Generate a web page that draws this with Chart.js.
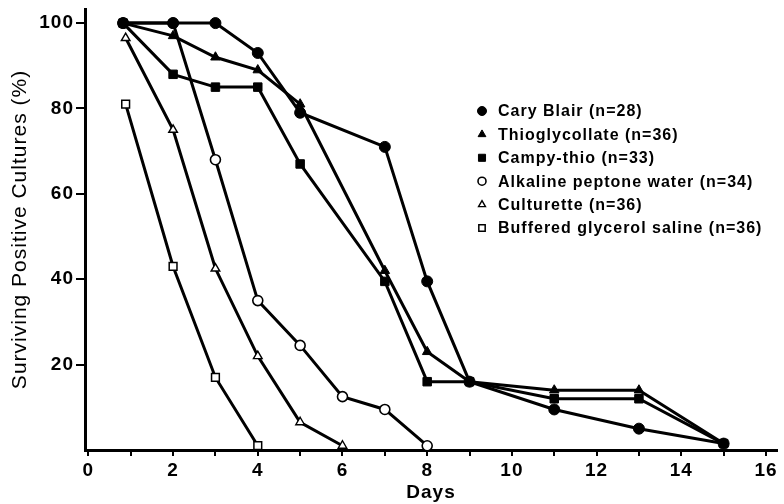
<!DOCTYPE html>
<html>
<head>
<meta charset="utf-8">
<script src="https://cdn.jsdelivr.net/npm/chart.js@4"></script>
<style>
  html, body { margin: 0; padding: 0; background: #fff; }
  #wrap { width: 784px; height: 504px; }
</style>
</head>
<body>
<div id="wrap"><canvas id="myChart" width="784" height="504"></canvas></div>
<script>
// days sampled (first sample taken a little before day 1)
var mainDays = [0.82, 2, 3, 4, 5, 7, 8, 9, 11, 13, 15];
var apwDays = [0.82, 2, 3, 4, 5, 6, 7, 8];
var culturetteDays = [0.88, 2, 3, 4, 5, 6];
var bgsDays = [0.88, 2, 3, 4];

// surviving positive cultures (%)
var caryBlair = [100, 100, 100, 93, 79, 71, 39.5, 16, 9.5, 5, 1.5];
var thioglycollate = [100, 97, 92, 89, 81, 42, 23, 16, 14, 14, 1.5];
var campyThio = [100, 88, 85, 85, 67, 39.5, 16, 16, 12, 12, 1.5];
var alkalinePeptone = [100, 100, 68, 35, 24.5, 12.5, 9.5, 1];
var culturette = [96.5, 75, 42.5, 22, 6.5, 1];
var bufferedGlycerol = [81, 43, 17, 1];

var seriesNames = ["Cary Blair", "Thioglycollate", "Campy-thio", "Alkaline peptone water", "Culturette", "Buffered glycerol saline"];
var sampleSizes = [28, 36, 33, 34, 36, 36];

var xTicks = [0, 1, 2, 3, 4, 5, 6, 7, 8, 9, 10, 11, 12, 13, 14, 15, 16];
var yTicks = [20, 40, 60, 80, 100];

var FONT = '"Liberation Sans", Arial, sans-serif';

function pts(days, vals) {
    return days.map(function (d, i) { return {x: d, y: vals[i]}; });
}

// let the tick labels hang over the plot edges like in the print
function noEdgePadding(scale) {
    scale.paddingLeft = 0;
    scale.paddingRight = 0;
    scale.paddingTop = 0;
    scale.paddingBottom = 0;
    if (scale._margins) {
        scale._margins.left = 0;
        scale._margins.right = 0;
        scale._margins.top = 0;
        scale._margins.bottom = 0;
    }
}

var markers = [
    {style: 'circle', r: 5.5, fill: '#000', lw: 1},
    {style: 'triangle', r: 5.5, fill: '#000', lw: 1},
    {style: 'rect', r: 6, fill: '#000', lw: 1},
    {style: 'circle', r: 5, fill: '#fff', lw: 1.6},
    {style: 'triangle', r: 5, fill: '#fff', lw: 1.4},
    {style: 'rect', r: 5.5, fill: '#fff', lw: 1.5}
];

var series = [
    pts(mainDays, caryBlair),
    pts(mainDays, thioglycollate),
    pts(mainDays, campyThio),
    pts(apwDays, alkalinePeptone),
    pts(culturetteDays, culturette),
    pts(bgsDays, bufferedGlycerol)
];

var datasets = series.map(function (d, i) {
    var m = markers[i];
    return {
        label: seriesNames[i],
        data: d,
        borderColor: '#000',
        borderWidth: 3,
        tension: 0,
        pointStyle: m.style,
        pointRadius: m.r,
        pointBackgroundColor: m.fill,
        pointBorderColor: '#000',
        pointBorderWidth: m.lw,
        order: i
    };
});

// legend drawn inside the plot, like the printed figure
var legendBox = {
    id: 'legendBox',
    beforeDraw: function (chart) {
        chart.ctx.letterSpacing = '1px';
    },
    afterDraw: function (chart) {
        var ctx = chart.ctx;
        ctx.save();
        ctx.letterSpacing = '1px';
        ctx.font = 'bold 16px ' + FONT;
        ctx.textBaseline = 'middle';
        ctx.fillStyle = '#000';
        for (var i = 0; i < seriesNames.length; i++) {
            var y = 111 + i * 23.4;
            var m = markers[i];
            ctx.fillStyle = m.fill;
            ctx.strokeStyle = '#000';
            ctx.lineWidth = m.lw;
            Chart.helpers.drawPoint(ctx, {pointStyle: m.style, radius: m.r - 1, borderWidth: m.lw, rotation: 0}, 482, y);
            ctx.fillStyle = '#000';
            ctx.fillText(seriesNames[i] + ' (n=' + sampleSizes[i] + ')', 498, y + 1);
        }
        ctx.restore();
    }
};

new Chart(document.getElementById('myChart'), {
    type: 'line',
    data: {datasets: datasets},
    plugins: [legendBox],
    options: {
        responsive: false,
        animation: false,
        layout: {padding: {top: 9, right: 0, left: 0, bottom: 0}},
        plugins: {legend: {display: false}, tooltip: {enabled: false}},
        scales: {
            x: {
                type: 'linear',
                min: -0.08,
                max: 16.26,
                afterBuildTicks: function (scale) {
                    scale.ticks = xTicks.map(function (v) { return {value: v}; });
                },
                afterFit: function (scale) {
                    scale.height = 54;
                    noEdgePadding(scale);
                },
                grid: {drawOnChartArea: false, drawTicks: true, tickLength: 6, color: '#000', lineWidth: 2},
                border: {display: true, color: '#000', width: 3},
                ticks: {
                    color: '#000',
                    padding: 3,
                    maxRotation: 0,
                    autoSkip: false,
                    font: {family: FONT, size: 19, weight: 'bold'},
                    callback: function (v) { return v % 2 === 0 ? v : ''; }
                },
                title: {
                    display: true, text: 'Days', color: '#000',
                    font: {family: FONT, size: 19, weight: 'bold'},
                    padding: {top: 0, bottom: 0}
                }
            },
            y: {
                min: 0,
                max: 103.3,
                afterBuildTicks: function (scale) {
                    scale.ticks = yTicks.map(function (v) { return {value: v}; });
                },
                afterFit: function (scale) {
                    scale.width = 85;
                    noEdgePadding(scale);
                },
                grid: {drawOnChartArea: false, drawTicks: true, tickLength: 9, color: '#000', lineWidth: 2},
                border: {display: true, color: '#000', width: 3},
                ticks: {
                    color: '#000',
                    padding: 2,
                    font: {family: FONT, size: 19, weight: 'bold'}
                },
                title: {
                    display: true, text: 'Surviving Positive Cultures (%)', color: '#000',
                    font: {family: FONT, size: 21, weight: 'normal'},
                    padding: {top: 8, bottom: 0}
                }
            }
        }
    }
});
</script>
</body>
</html>
